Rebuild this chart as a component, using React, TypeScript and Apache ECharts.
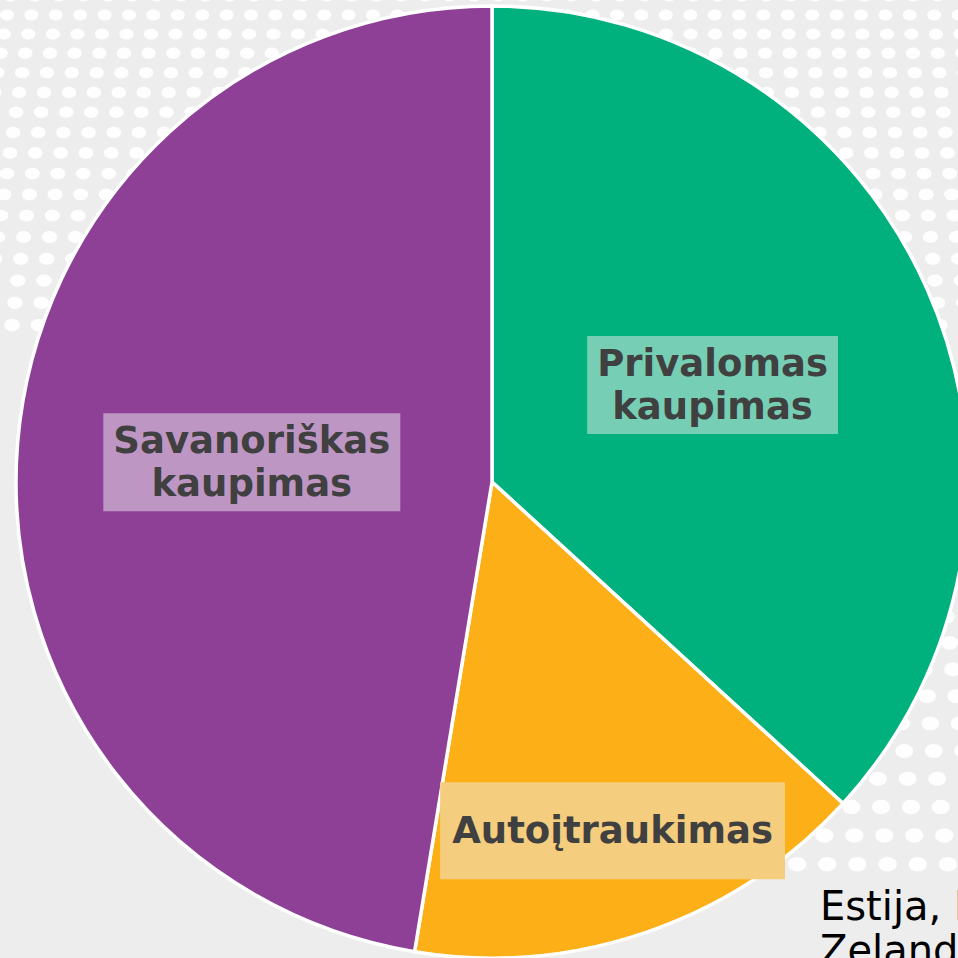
import React, { useEffect, useRef } from "react";
import * as echarts from "echarts";

const categories = ["Privalomas kaupimas", "Autoįtraukimas", "Savanoriškas kaupimas"];
const values = [36.8, 15.8, 47.4];
const labelTexts = ["Privalomas\nkaupimas", "Autoįtraukimas", "Savanoriškas\nkaupimas"];
const sliceColors = ["#00B07D", "#FCAF17", "#8E3F96"];
const labelBoxColors = ["#76CFB4", "#F5CD7E", "#BE96C4"];
const sideNote = "Estija, Latvija, Naujoji\nZelandija";

const CX = 492;
const CY = 482;
const R = 476;

function buildDots() {
  const dots: any[] = [];
  let y = -4;
  let row = 0;
  while (y < 900) {
    const hx = 24.4 + Math.max(0, y - 15) * 0.0068;
    const rx = 7 + Math.max(0, y) * 0.0025;
    const ry = 5.5 + Math.max(0, y) * 0.002;
    let x0 = 7 - 3.2 * (row - 1);
    x0 = ((x0 % hx) + hx) % hx - hx;
    for (let x = x0; x < 980; x += hx) {
      const inTop = y < 335;
      const inRight = x > 780 && y < 885;
      if (!inTop && !inRight) continue;
      dots.push({
        type: "ellipse",
        z: 0,
        silent: true,
        shape: { cx: x, cy: y, rx, ry },
        style: { fill: "#ffffff", opacity: 0.95 },
      });
    }
    const vy = 19 + Math.max(0, y - 15) * 0.012;
    y += vy;
    row += 1;
  }
  return dots;
}

export default function App() {
  const ref = useRef<HTMLDivElement>(null);

  useEffect(() => {
    if (!ref.current) return;
    const chart = echarts.init(ref.current, null, { renderer: "svg" });
    const total = values.reduce((a, b) => a + b, 0);

    const data = categories.map((name, i) => ({
      name,
      value: values[i],
      itemStyle: { color: sliceColors[i] },
      label: {
        backgroundColor: labelBoxColors[i],
        padding: labelTexts[i].includes("\n") ? [6, 10, 6, 10] : [27, 12, 27, 12],
      },
    }));

    chart.setOption({
      animation: false,
      backgroundColor: "#EDEDED",
      graphic: [
        ...buildDots(),
        {
          type: "text",
          z: 100,
          left: 820,
          top: 884,
          style: {
            text: sideNote,
            fill: "#000000",
            font: '40px "DejaVu Sans", Verdana, sans-serif',
            lineHeight: 44,
          },
        },
      ],
      series: [
        {
          type: "pie",
          z: 2,
          center: [CX, CY],
          radius: [0, R],
          startAngle: 90,
          clockwise: true,
          avoidLabelOverlap: false,
          itemStyle: { borderColor: "#ffffff", borderWidth: 3.5 },
          emphasis: { disabled: true },
          label: {
            show: true,
            position: "inside",
            formatter: (p: any) => labelTexts[p.dataIndex],
            color: "#404040",
            fontFamily: '"DejaVu Sans", Verdana, sans-serif',
            fontWeight: "bold",
            fontSize: 37,
            lineHeight: 43,
          },
          labelLine: { show: false },
          labelLayout: (p: any) => {
            if (p.dataIndex !== 1) return {};
            let before = 0;
            for (let i = 0; i < p.dataIndex; i++) before += values[i];
            const mid = ((before + values[p.dataIndex] / 2) / total) * Math.PI * 2;
            const rr = R * 0.775;
            return {
              x: CX + rr * Math.sin(mid),
              y: CY - rr * Math.cos(mid),
              align: "center",
              verticalAlign: "middle",
            };
          },
          data,
        },
      ],
    });
    return () => chart.dispose();
  }, []);

  return (
    <div
      ref={ref}
      style={{ position: "absolute", left: 0, top: 0, width: 958, height: 958 }}
    />
  );
}
